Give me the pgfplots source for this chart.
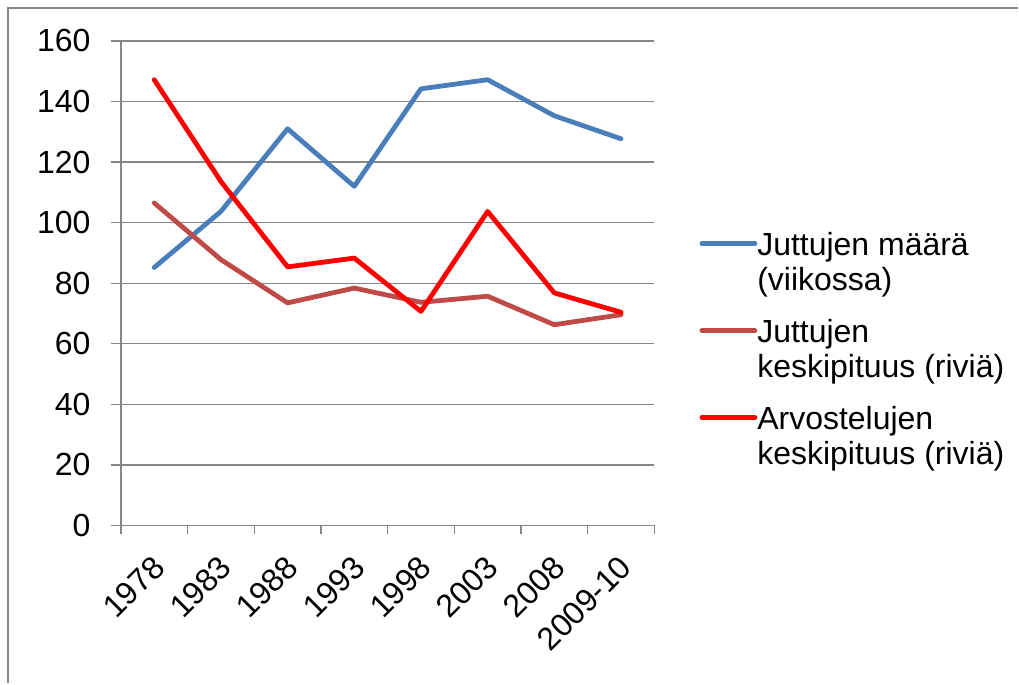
\documentclass[border=0pt]{standalone}
\usepackage{pgfplots}
\pgfplotsset{compat=1.18}
\usepackage{fontspec}
\setmainfont{Liberation Sans}
\definecolor{cblue}{HTML}{4A7EBB}
\definecolor{cbrown}{HTML}{BE4B48}
\definecolor{cred}{HTML}{FF0000}
\definecolor{cgrid}{HTML}{868686}
\begin{document}
\fontsize{16}{17.5}\selectfont
\begin{tikzpicture}
\path (0pt,0pt) rectangle (509.5pt,342pt);
\draw[cgrid, line width=1pt] (4pt,0pt) -- (4pt,338pt) -- (509.5pt,338pt);
\begin{axis}[
  at={(60.5pt,79pt)}, anchor=south west,
  scale only axis, width=267pt, height=242.5pt,
  xmin=-0.5, xmax=7.5, ymin=0, ymax=160,
  ytick={0,20,...,160},
  xtick={0,...,7},
  xticklabels={1978,1983,1988,1993,1998,2003,2008,2009-10},
  minor xtick={-0.5,0.5,...,7.5},
  axis x line*=bottom, axis y line*=left,
  axis line style={cgrid, line width=0.7pt, -},
  tick align=outside,
  major tick length=5pt, minor tick length=4.5pt,
  x tick style={draw=none},
  minor x tick style={draw=cgrid, line width=0.7pt},
  y tick style={cgrid, line width=0.7pt},
  ymajorgrids, grid style={cgrid, line width=0.7pt},
  /pgf/number format/assume math mode=true,
  tick label style={font=\fontsize{16}{17.5}\selectfont, text=black},
  yticklabel style={anchor=east, inner sep=0pt, xshift=-10pt},
  xticklabel style={xshift=2.5pt, yshift=-13pt, rotate=45, anchor=east, inner sep=0pt},
  legend cell align=left,
  legend style={at={(1.084,0.606)}, anchor=north west, draw=none, fill=none,
    inner sep=0pt, row sep=12pt, font=\fontsize{16}{17.5}\selectfont,
    nodes={align=left, inner sep=0pt, outer sep=0pt}},
  legend image code/.code={\path[draw=none, fill=none] (0pt,-10pt) -- (0pt,10pt);
    \draw[#1, line cap=round] (0pt,10pt) -- (26.5pt,10pt);},
  every axis plot/.append style={line width=2.4pt, line join=round, line cap=round},
]
\addplot[cblue] coordinates {(0,85.2) (1,103.7) (2,131) (3,112) (4,144.2) (5,147.2) (6,135.3) (7,127.7)};
\addplot[cbrown] coordinates {(0,106.5) (1,87.8) (2,73.5) (3,78.4) (4,73.7) (5,75.7) (6,66.3) (7,69.6)};
\addplot[cred] coordinates {(0,147.2) (1,113.6) (2,85.4) (3,88.3) (4,70.7) (5,103.7) (6,76.8) (7,70.4)};
\legend{{Juttujen määrä\\(viikossa)},{Juttujen\\keskipituus (riviä)},{Arvostelujen\\keskipituus (riviä)}}
\end{axis}
\end{tikzpicture}
\end{document}
